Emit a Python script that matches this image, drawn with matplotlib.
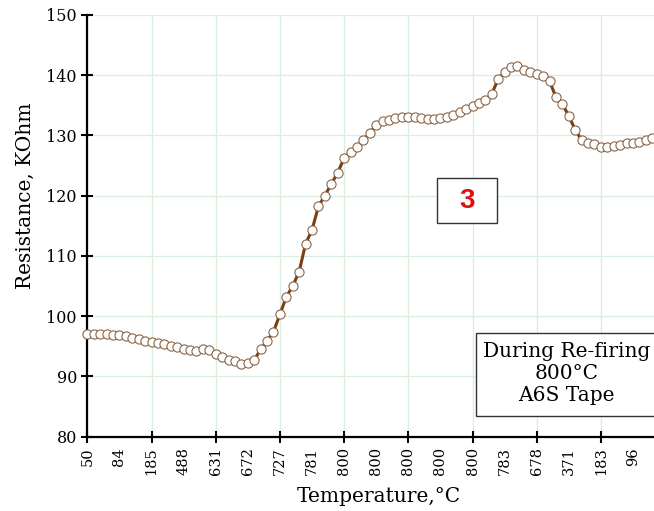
import matplotlib
matplotlib.use("Agg")
import matplotlib.pyplot as plt
import matplotlib.patches as mpatches
import numpy as np

# temperature shown under every fifth reading
tick_temps = [50, 84, 185, 488, 631, 672, 727, 781, 800, 800,
              800, 800, 800, 783, 678, 371, 183, 96]

# resistance readings (KOhm) during re-firing, one per sample
resistance = [97.1, 97.1, 97.0, 97.0, 96.9, 96.8, 96.7, 96.4, 96.2, 95.9,
              95.7, 95.5, 95.3, 95.0, 94.8, 94.6, 94.4, 94.2, 94.5, 94.4,
              93.8, 93.2, 92.7, 92.5, 92.1, 92.3, 92.7, 94.5, 95.9, 97.4,
              100.3, 103.2, 105.0, 107.4, 112.0, 114.3, 118.2, 120.0, 121.9, 123.8,
              126.2, 127.2, 128.0, 129.2, 130.4, 131.7, 132.4, 132.6, 132.9, 133.0,
              133.1, 133.0, 132.9, 132.7, 132.7, 132.9, 133.1, 133.4, 133.8, 134.3,
              134.9, 135.4, 135.8, 136.9, 139.3, 140.5, 141.4, 141.5, 140.9, 140.5,
              140.1, 139.8, 139.0, 136.3, 135.2, 133.2, 130.9, 129.2, 128.8, 128.5,
              128.1, 128.0, 128.2, 128.4, 128.7, 128.8, 128.9, 129.2, 129.5]

serif = "DejaVu Serif"

fig = plt.figure(figsize=(6.54, 5.11), dpi=100)
ax = fig.add_axes([0.1335, 0.1454, 0.8665, 0.8258])

idx = np.arange(len(resistance))
ax.plot(idx, resistance, color="#7b3f10", lw=2.2, zorder=3,
        marker="o", markersize=6.6, markerfacecolor="white",
        markeredgecolor="#8a6548", markeredgewidth=0.8, clip_on=False)

ax.set_xlim(0, 88.27)
ax.set_ylim(80, 150)
ax.set_yticks(np.arange(80, 151, 10))

# labelled ticks every 5 samples, tick marks and grid every 10
major = np.arange(0, len(tick_temps) * 5, 10)
minor = np.arange(5, len(tick_temps) * 5, 10)
ax.set_xticks(major)
ax.set_xticklabels([str(t) for t in tick_temps[::2]])
ax.set_xticks(minor, minor=True)
ax.set_xticklabels([str(t) for t in tick_temps[1::2]], minor=True)

ax.tick_params(axis="x", which="major", direction="inout", length=9, width=1.5,
               labelrotation=90, labelsize=10.5, pad=3)
ax.tick_params(axis="x", which="minor", length=0, labelrotation=90,
               labelsize=10.5, pad=7.5)
ax.tick_params(axis="y", direction="inout", length=9, width=1.5, labelsize=11.5, pad=3)
for lab in ax.get_xticklabels(which="both") + ax.get_yticklabels():
    lab.set_fontfamily(serif)

for s in ("top", "right"):
    ax.spines[s].set_visible(False)
for s in ("left", "bottom"):
    ax.spines[s].set_linewidth(1.6)

ax.grid(True, which="major", color="#d9eedc", lw=0.9, zorder=0)
ax.set_axisbelow(True)

ax.set_ylabel("Resistance, KOhm", fontsize=14.5, family=serif)
ax.yaxis.set_label_coords(-0.092, 0.571)
ax.set_xlabel("Temperature,°C", fontsize=14.5, family=serif)
ax.xaxis.set_label_coords(0.515, -0.12)

# sample number tag
ax.add_patch(mpatches.Rectangle((0.617, 0.506), 0.106, 0.107, transform=ax.transAxes,
                                facecolor="white", edgecolor="#333333", lw=1.0, zorder=4))
ax.text(0.670, 0.559, "3", transform=ax.transAxes, ha="center", va="center",
        color="#e01010", fontsize=20, fontweight="bold", family="Liberation Sans", zorder=5)

# condition box
ax.add_patch(mpatches.Rectangle((0.686, 0.049), 0.4, 0.197, transform=ax.transAxes,
                                facecolor="white", edgecolor="#333333", lw=1.0,
                                zorder=4, clip_on=False))
ax.text(0.846, 0.149, "During Re-firing\n800°C\nA6S Tape", transform=ax.transAxes,
        ha="center", va="center", fontsize=14.5, family=serif, linespacing=1.2, zorder=5)

fig.savefig("out.png", dpi=100, facecolor="white")
